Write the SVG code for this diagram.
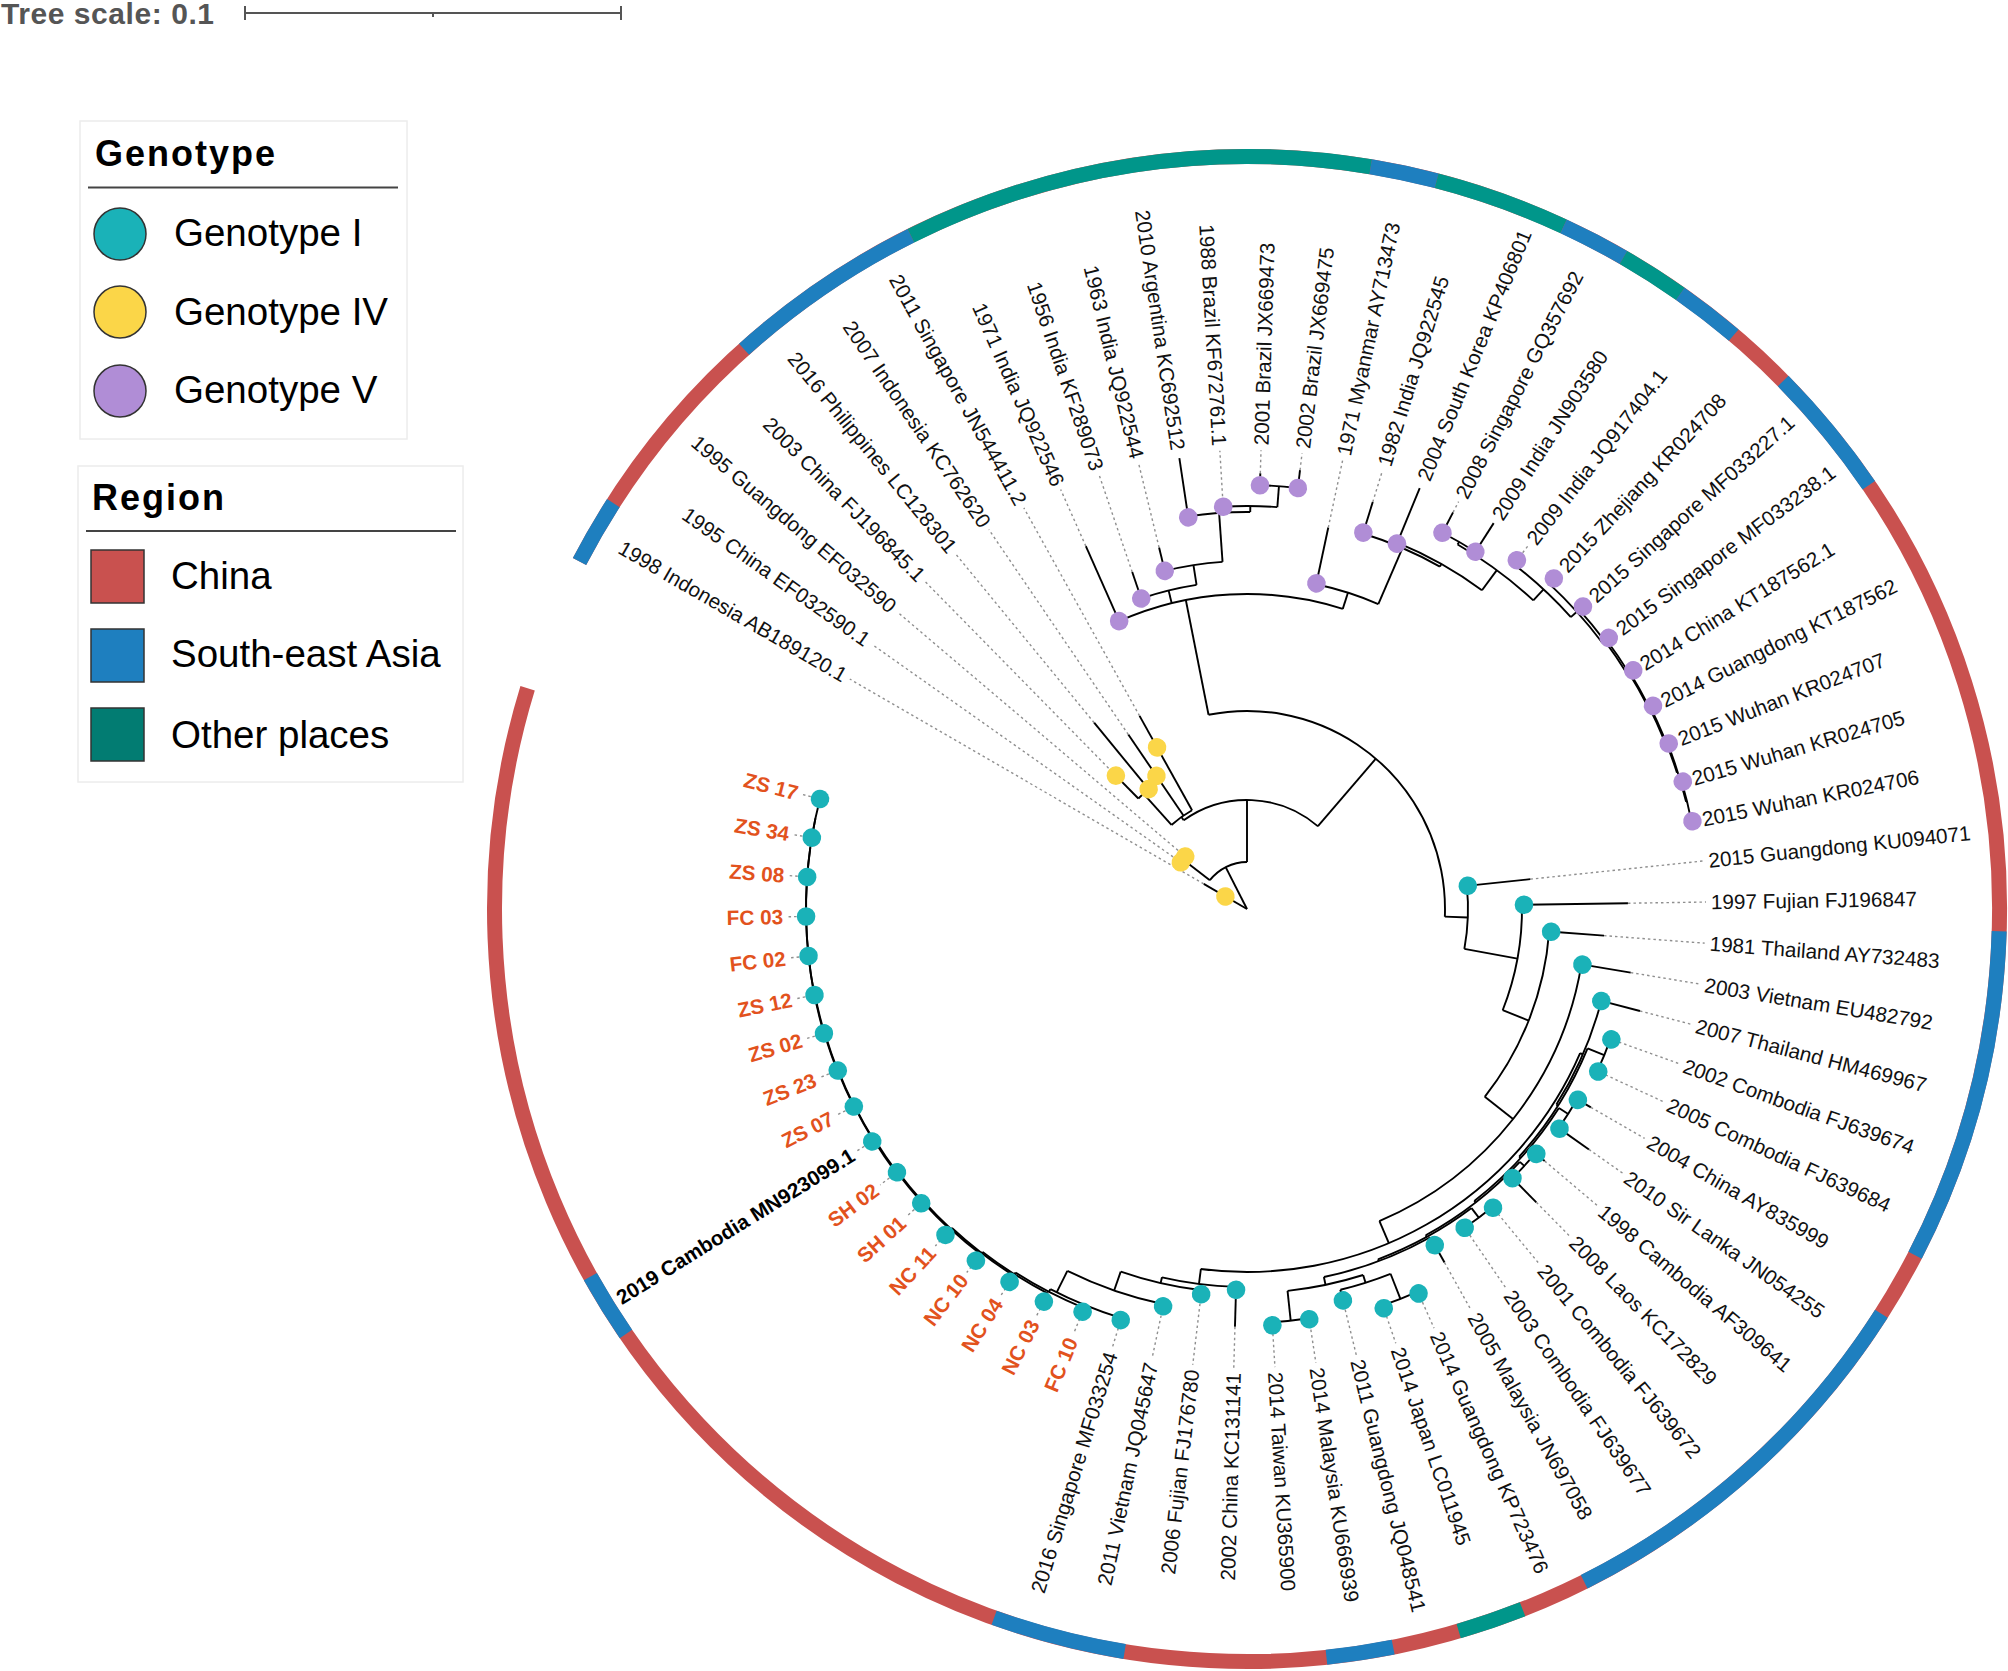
<svg xmlns="http://www.w3.org/2000/svg" width="2008" height="1671" viewBox="0 0 2008 1671">
<style>
text{font-family:"Liberation Sans",Arial,sans-serif}
.a{fill:none;stroke:#000;stroke-width:1.9}
.br line{stroke:#000;stroke-width:1.9}
.br line.d{stroke:#8f8f8f;stroke-width:1.4;stroke-dasharray:2.5 3}
.rg{fill:none;stroke-width:15}
.rr{stroke:#c9514f}.rb{stroke:#1e7fbf}.rt{stroke:#00968a}
.lb{font-size:20.7px;fill:#111}
.L{text-anchor:end}
.o{font-weight:bold;fill:#e2521d}
.k{font-weight:bold;fill:#000}
#leaves circle{r:9.3px}
.g1{fill:#1ab2b8}.g4{fill:#fbd648}.g5{fill:#b08dd6}
.lg{font-size:38.5px;fill:#000}
.lt{font-size:36px;font-weight:bold;fill:#000}
.box{fill:#fff;stroke:#ececec;stroke-width:1.5}
.sw{stroke:#333;stroke-width:1.5}
</style>
<rect width="2008" height="1671" fill="#fff"/>
<g id="scale">
<text x="1" y="24" font-size="30" font-weight="bold" fill="#555" textLength="213">Tree scale: 0.1</text>
<path d="M245 6V20M245 13H621M621 6V20M433 13V17" stroke="#555" stroke-width="2" fill="none"/>
</g>
<g id="legend-genotype">
<rect class="box" x="80" y="121" width="327" height="318"/>
<text class="lt" x="95" y="166" textLength="180">Genotype</text>
<line x1="88" y1="187.5" x2="398" y2="187.5" stroke="#444" stroke-width="2"/>
<circle class="g1 sw" cx="120" cy="234" r="26"/>
<text class="lg" x="174" y="246">Genotype I</text>
<circle class="g4 sw" cx="120" cy="312" r="26"/>
<text class="lg" x="174" y="325">Genotype IV</text>
<circle class="g5 sw" cx="120" cy="391" r="26"/>
<text class="lg" x="174" y="403">Genotype V</text>
</g>
<g id="legend-region">
<rect class="box" x="78" y="466" width="385" height="316"/>
<text class="lt" x="92" y="510" textLength="132">Region</text>
<line x1="86" y1="531" x2="456" y2="531" stroke="#444" stroke-width="2"/>
<rect class="sw" x="91" y="550" width="53" height="53" fill="#c9514f"/>
<text class="lg" x="171" y="589">China</text>
<rect class="sw" x="91" y="629" width="53" height="53" fill="#1e7fbf"/>
<text class="lg" x="171" y="667">South-east Asia</text>
<rect class="sw" x="91" y="708" width="53" height="53" fill="#027c72"/>
<text class="lg" x="171" y="748">Other places</text>
</g>
<g id="tree" transform="translate(1247 909)">
<g id="ring">
<circle class="rg rr" r="752.5" stroke-dasharray="4590.5 5000" transform="rotate(207.5)"/>
<circle class="rg rb" r="752.5" stroke-dasharray="67.51 5000" transform="rotate(207.5)"/>
<circle class="rg rb" r="752.5" stroke-dasharray="202.52 5000" transform="rotate(228.06)"/>
<circle class="rg rt" r="752.5" stroke-dasharray="472.55 5000" transform="rotate(243.48)"/>
<circle class="rg rb" r="752.5" stroke-dasharray="67.51 5000" transform="rotate(279.46)"/>
<circle class="rg rt" r="752.5" stroke-dasharray="135.01 5000" transform="rotate(284.6)"/>
<circle class="rg rb" r="752.5" stroke-dasharray="67.51 5000" transform="rotate(294.88)"/>
<circle class="rg rt" r="752.5" stroke-dasharray="67.51 5000" transform="rotate(300.02)"/>
<circle class="rg rb" r="752.5" stroke-dasharray="67.51 5000" transform="rotate(305.16)"/>
<circle class="rg rb" r="752.5" stroke-dasharray="135.01 5000" transform="rotate(315.44)"/>
<circle class="rg rb" r="752.5" stroke-dasharray="337.54 5000" transform="rotate(1.7)"/>
<circle class="rg rb" r="752.5" stroke-dasharray="405.04 5000" transform="rotate(32.54)"/>
<circle class="rg rt" r="752.5" stroke-dasharray="67.51 5000" transform="rotate(68.52)"/>
<circle class="rg rb" r="752.5" stroke-dasharray="67.51 5000" transform="rotate(78.8)"/>
<circle class="rg rb" r="752.5" stroke-dasharray="135.01 5000" transform="rotate(99.36)"/>
<circle class="rg rb" r="752.5" stroke-dasharray="67.51 5000" transform="rotate(145.62)"/>
</g>
<g id="connectors" class="br">
<circle class="a" r="47" stroke-dasharray="42.84 5000" transform="rotate(217.78)"/>
<circle class="a" r="81" stroke-dasharray="7.27 5000" transform="rotate(215.21)"/>
<circle class="a" r="109" stroke-dasharray="144.77 5000" transform="rotate(234.5)"/>
<circle class="a" r="113" stroke-dasharray="25.34 5000" transform="rotate(228.06)"/>
<circle class="a" r="155" stroke-dasharray="13.91 5000" transform="rotate(225.49)"/>
<circle class="a" r="198" stroke-dasharray="357.32 5000" transform="rotate(258.8)"/>
<circle class="a" r="315" stroke-dasharray="228.98 5000" transform="rotate(246.05)"/>
<circle class="a" r="328" stroke-dasharray="57.02 5000" transform="rotate(251.19)"/>
<circle class="a" r="348" stroke-dasharray="58.55 5000" transform="rotate(256.33)"/>
<circle class="a" r="397" stroke-dasharray="62.36 5000" transform="rotate(261.47)"/>
<circle class="a" r="403" stroke-dasharray="54.23 5000" transform="rotate(266.61)"/>
<circle class="a" r="424" stroke-dasharray="38.04 5000" transform="rotate(271.75)"/>
<circle class="a" r="332" stroke-dasharray="65.30 5000" transform="rotate(282.03)"/>
<circle class="a" r="393" stroke-dasharray="83.89 5000" transform="rotate(287.17)"/>
<circle class="a" r="396" stroke-dasharray="97.38 5000" transform="rotate(292.31)"/>
<circle class="a" r="421" stroke-dasharray="94.27 5000" transform="rotate(300.02)"/>
<circle class="a" r="424" stroke-dasharray="38.04 5000" transform="rotate(297.45)"/>
<circle class="a" r="436" stroke-dasharray="77.92 5000" transform="rotate(307.73)"/>
<circle class="a" r="444" stroke-dasharray="79.04 5000" transform="rotate(312.87)"/>
<circle class="a" r="447" stroke-dasharray="78.95 5000" transform="rotate(318.01)"/>
<circle class="a" r="449" stroke-dasharray="78.05 5000" transform="rotate(323.15)"/>
<circle class="a" r="450" stroke-dasharray="75.71 5000" transform="rotate(328.29)"/>
<circle class="a" r="451" stroke-dasharray="70.84 5000" transform="rotate(333.43)"/>
<circle class="a" r="452" stroke-dasharray="60.82 5000" transform="rotate(338.57)"/>
<circle class="a" r="453" stroke-dasharray="40.64 5000" transform="rotate(343.71)"/>
<circle class="a" r="221" stroke-dasharray="63.30 5000" transform="rotate(353.99)"/>
<circle class="a" r="275" stroke-dasharray="107.85 5000" transform="rotate(359.13)"/>
<circle class="a" r="303" stroke-dasharray="179.96 5000" transform="rotate(4.27)"/>
<circle class="a" r="339" stroke-dasharray="340.74 5000" transform="rotate(9.41)"/>
<circle class="a" r="363" stroke-dasharray="468.20 5000" transform="rotate(23.4)"/>
<circle class="a" r="366" stroke-dasharray="113.39 5000" transform="rotate(14.55)"/>
<circle class="a" r="368" stroke-dasharray="128.71 5000" transform="rotate(22.26)"/>
<circle class="a" r="370" stroke-dasharray="126.31 5000" transform="rotate(32.54)"/>
<circle class="a" r="372" stroke-dasharray="119.98 5000" transform="rotate(42.82)"/>
<circle class="a" r="374" stroke-dasharray="107.05 5000" transform="rotate(53.1)"/>
<circle class="a" r="376" stroke-dasharray="114.12 5000" transform="rotate(60.81)"/>
<circle class="a" r="384" stroke-dasharray="77.34 5000" transform="rotate(72.4)"/>
<circle class="a" r="386" stroke-dasharray="34.63 5000" transform="rotate(19.69)"/>
<circle class="a" r="381" stroke-dasharray="34.18 5000" transform="rotate(29.97)"/>
<circle class="a" r="378" stroke-dasharray="33.91 5000" transform="rotate(40.25)"/>
<circle class="a" r="386" stroke-dasharray="34.63 5000" transform="rotate(50.53)"/>
<circle class="a" r="392" stroke-dasharray="52.75 5000" transform="rotate(68.52)"/>
<circle class="a" r="419" stroke-dasharray="37.59 5000" transform="rotate(65.95)"/>
<circle class="a" r="414" stroke-dasharray="37.14 5000" transform="rotate(81.37)"/>
<circle class="a" r="378" stroke-dasharray="74.88 5000" transform="rotate(91.65)"/>
<circle class="a" r="384" stroke-dasharray="83.17 5000" transform="rotate(96.79)"/>
<circle class="a" r="404" stroke-dasharray="102.03 5000" transform="rotate(101.93)"/>
<circle class="a" r="428" stroke-dasharray="76.79 5000" transform="rotate(107.07)"/>
<circle class="a" r="431" stroke-dasharray="77.33 5000" transform="rotate(112.21)"/>
<circle class="a" r="433" stroke-dasharray="77.69 5000" transform="rotate(117.35)"/>
<circle class="a" r="434.5" stroke-dasharray="77.96 5000" transform="rotate(122.49)"/>
<circle class="a" r="436" stroke-dasharray="78.23 5000" transform="rotate(127.63)"/>
<circle class="a" r="437" stroke-dasharray="78.41 5000" transform="rotate(132.77)"/>
<circle class="a" r="438" stroke-dasharray="78.59 5000" transform="rotate(137.91)"/>
<circle class="a" r="439" stroke-dasharray="78.69 5000" transform="rotate(143.05)"/>
<circle class="a" r="439.5" stroke-dasharray="78.70 5000" transform="rotate(148.19)"/>
<circle class="a" r="440" stroke-dasharray="78.64 5000" transform="rotate(153.33)"/>
<circle class="a" r="440.5" stroke-dasharray="78.42 5000" transform="rotate(158.47)"/>
<circle class="a" r="441" stroke-dasharray="77.89 5000" transform="rotate(163.61)"/>
<circle class="a" r="441" stroke-dasharray="76.66 5000" transform="rotate(168.75)"/>
<circle class="a" r="441" stroke-dasharray="74.20 5000" transform="rotate(173.89)"/>
<circle class="a" r="441" stroke-dasharray="69.27 5000" transform="rotate(179.03)"/>
<circle class="a" r="441" stroke-dasharray="59.34 5000" transform="rotate(184.17)"/>
<circle class="a" r="441" stroke-dasharray="39.56 5000" transform="rotate(189.31)"/>
<line x1="0" x2="47" transform="rotate(243)"/>
<line x1="47" x2="81" transform="rotate(217.78)"/>
<line x1="47" x2="109" transform="rotate(270)"/>
<line x1="109" x2="113" transform="rotate(234.5)"/>
<line x1="113" x2="155" transform="rotate(228.06)"/>
<line x1="109" x2="198" transform="rotate(310.6)"/>
<line x1="198" x2="315" transform="rotate(258.8)"/>
<line x1="198" x2="221" transform="rotate(2.2)"/>
<line x1="315" x2="328" transform="rotate(256.17)"/>
<line x1="328" x2="348" transform="rotate(261.15)"/>
<line x1="348" x2="397" transform="rotate(265.97)"/>
<line x1="397" x2="403" transform="rotate(270.47)"/>
<line x1="403" x2="424" transform="rotate(274.32)"/>
<line x1="315" x2="332" transform="rotate(287.7)"/>
<line x1="332" x2="393" transform="rotate(293.3)"/>
<line x1="393" x2="396" transform="rotate(299.4)"/>
<line x1="396" x2="421" transform="rotate(306.4)"/>
<line x1="421" x2="424" transform="rotate(300.02)"/>
<line x1="421" x2="436" transform="rotate(312.85)"/>
<line x1="436" x2="444" transform="rotate(317.97)"/>
<line x1="444" x2="447" transform="rotate(323.07)"/>
<line x1="447" x2="449" transform="rotate(328.13)"/>
<line x1="449" x2="450" transform="rotate(333.11)"/>
<line x1="450" x2="451" transform="rotate(337.93)"/>
<line x1="451" x2="452" transform="rotate(342.43)"/>
<line x1="452" x2="453" transform="rotate(346.28)"/>
<line x1="221" x2="275" transform="rotate(10.4)"/>
<line x1="275" x2="303" transform="rotate(21.6)"/>
<line x1="303" x2="339" transform="rotate(38.3)"/>
<line x1="339" x2="363" transform="rotate(67)"/>
<line x1="363" x2="366" transform="rotate(23.4)"/>
<line x1="366" x2="368" transform="rotate(32.3)"/>
<line x1="368" x2="386" transform="rotate(22.26)"/>
<line x1="368" x2="370" transform="rotate(42.3)"/>
<line x1="370" x2="381" transform="rotate(32.54)"/>
<line x1="370" x2="372" transform="rotate(52.1)"/>
<line x1="372" x2="378" transform="rotate(42.82)"/>
<line x1="372" x2="374" transform="rotate(61.3)"/>
<line x1="374" x2="386" transform="rotate(53.1)"/>
<line x1="374" x2="376" transform="rotate(69.5)"/>
<line x1="376" x2="384" transform="rotate(78.2)"/>
<line x1="384" x2="392" transform="rotate(72.4)"/>
<line x1="392" x2="419" transform="rotate(68.52)"/>
<line x1="384" x2="414" transform="rotate(83.94)"/>
<line x1="363" x2="378" transform="rotate(97.3)"/>
<line x1="378" x2="384" transform="rotate(103)"/>
<line x1="384" x2="404" transform="rotate(109.2)"/>
<line x1="404" x2="428" transform="rotate(116.4)"/>
<line x1="428" x2="431" transform="rotate(117.35)"/>
<line x1="431" x2="433" transform="rotate(122.49)"/>
<line x1="433" x2="434.5" transform="rotate(127.63)"/>
<line x1="434.5" x2="436" transform="rotate(132.77)"/>
<line x1="436" x2="437" transform="rotate(137.91)"/>
<line x1="437" x2="438" transform="rotate(143.05)"/>
<line x1="438" x2="439" transform="rotate(148.19)"/>
<line x1="439" x2="439.5" transform="rotate(153.32)"/>
<line x1="439.5" x2="440" transform="rotate(158.45)"/>
<line x1="440" x2="440.5" transform="rotate(163.57)"/>
<line x1="440.5" x2="441" transform="rotate(168.67)"/>
<g transform="rotate(210.07)"><line x1="0" x2="50"/><line class="d" x1="50" x2="459"/></g>
<g transform="rotate(215.21)"><line x1="81" x2="85"/><line class="d" x1="85" x2="459"/></g>
<g transform="rotate(220.35)"><line x1="81" x2="85"/><line class="d" x1="85" x2="459"/></g>
<g transform="rotate(225.49)"><line x1="155" x2="192"/><line class="d" x1="192" x2="459"/></g>
<g transform="rotate(230.63)"><line x1="155" x2="241"/><line class="d" x1="241" x2="459"/></g>
<g transform="rotate(235.77)"><line x1="113" x2="211"/><line class="d" x1="211" x2="459"/></g>
<g transform="rotate(240.91)"><line x1="113" x2="221"/><line class="d" x1="221" x2="459"/></g>
<g transform="rotate(246.05)"><line x1="315" x2="397"/><line class="d" x1="397" x2="459"/></g>
<g transform="rotate(251.19)"><line x1="328" x2="356"/><line class="d" x1="356" x2="459"/></g>
<g transform="rotate(256.33)"><line x1="348" x2="372"/><line class="d" x1="372" x2="459"/></g>
<g transform="rotate(261.47)"><line x1="397" x2="456"/></g>
<g transform="rotate(266.61)"><line x1="403" x2="408"/><line class="d" x1="408" x2="459"/></g>
<g transform="rotate(271.75)"><line x1="424" x2="436"/><line class="d" x1="436" x2="459"/></g>
<g transform="rotate(276.89)"><line x1="424" x2="442"/><line class="d" x1="442" x2="459"/></g>
<g transform="rotate(282.03)"><line x1="332" x2="390"/><line class="d" x1="390" x2="459"/></g>
<g transform="rotate(287.17)"><line x1="393" x2="426"/><line class="d" x1="426" x2="459"/></g>
<g transform="rotate(292.31)"><line x1="396" x2="455"/></g>
<g transform="rotate(297.45)"><line x1="424" x2="447"/><line class="d" x1="447" x2="459"/></g>
<g transform="rotate(302.59)"><line x1="424" x2="458"/></g>
<g transform="rotate(307.73)"><line x1="436" x2="445"/><line class="d" x1="445" x2="459"/></g>
<g transform="rotate(312.87)"><line x1="444" x2="454"/></g>
<g transform="rotate(318.01)"><line x1="447" x2="457"/></g>
<g transform="rotate(323.15)"><line x1="449" x2="457"/></g>
<g transform="rotate(328.29)"><line x1="450" x2="457"/></g>
<g transform="rotate(333.43)"><line x1="451" x2="457"/></g>
<g transform="rotate(338.57)"><line x1="452" x2="457"/></g>
<g transform="rotate(343.71)"><line x1="453" x2="457"/></g>
<g transform="rotate(348.85)"><line x1="453" x2="457"/></g>
<g transform="rotate(353.99)"><line x1="221" x2="285"/><line class="d" x1="285" x2="459"/></g>
<g transform="rotate(359.13)"><line x1="275" x2="381"/><line class="d" x1="381" x2="459"/></g>
<g transform="rotate(4.27)"><line x1="303" x2="358"/><line class="d" x1="358" x2="459"/></g>
<g transform="rotate(9.41)"><line x1="339" x2="389"/><line class="d" x1="389" x2="459"/></g>
<g transform="rotate(14.55)"><line x1="366" x2="406"/><line class="d" x1="406" x2="459"/></g>
<g transform="rotate(19.69)"><line x1="386" x2="395"/><line class="d" x1="395" x2="459"/></g>
<g transform="rotate(24.83)"><line x1="386" x2="395"/><line class="d" x1="395" x2="459"/></g>
<g transform="rotate(29.97)"><line x1="381" x2="397"/><line class="d" x1="397" x2="459"/></g>
<g transform="rotate(35.11)"><line x1="381" x2="418"/><line class="d" x1="418" x2="459"/></g>
<g transform="rotate(40.25)"><line x1="378" x2="390"/><line class="d" x1="390" x2="459"/></g>
<g transform="rotate(45.39)"><line x1="378" x2="412"/><line class="d" x1="412" x2="459"/></g>
<g transform="rotate(50.53)"><line x1="386" x2="395"/><line class="d" x1="395" x2="459"/></g>
<g transform="rotate(55.67)"><line x1="386" x2="395"/><line class="d" x1="395" x2="459"/></g>
<g transform="rotate(60.81)"><line x1="376" x2="405"/><line class="d" x1="405" x2="459"/></g>
<g transform="rotate(65.95)"><line x1="419" x2="425"/><line class="d" x1="425" x2="459"/></g>
<g transform="rotate(71.09)"><line x1="419" x2="425"/><line class="d" x1="425" x2="459"/></g>
<g transform="rotate(76.23)"><line x1="392" x2="407"/><line class="d" x1="407" x2="459"/></g>
<g transform="rotate(81.37)"><line x1="414" x2="420"/><line class="d" x1="420" x2="459"/></g>
<g transform="rotate(86.51)"><line x1="414" x2="420"/><line class="d" x1="420" x2="459"/></g>
<g transform="rotate(91.65)"><line x1="378" x2="418"/><line class="d" x1="418" x2="459"/></g>
<g transform="rotate(96.79)"><line x1="384" x2="392"/><line class="d" x1="392" x2="459"/></g>
<g transform="rotate(101.93)"><line x1="404" x2="410"/><line class="d" x1="410" x2="459"/></g>
<g transform="rotate(107.07)"><line x1="428" x2="433"/><line class="d" x1="433" x2="459"/></g>
<g transform="rotate(112.21)"><line x1="431" x2="437"/><line class="d" x1="437" x2="459"/></g>
<g transform="rotate(117.35)"><line x1="433" x2="444"/><line class="d" x1="444" x2="459"/></g>
<g transform="rotate(122.49)"><line x1="434.5" x2="444"/><line class="d" x1="444" x2="459"/></g>
<g transform="rotate(127.63)"><line x1="436" x2="446"/><line class="d" x1="446" x2="459"/></g>
<g transform="rotate(132.77)"><line x1="437" x2="446"/><line class="d" x1="446" x2="459"/></g>
<g transform="rotate(137.91)"><line x1="438" x2="443"/><line class="d" x1="443" x2="459"/></g>
<g transform="rotate(143.05)"><line x1="439" x2="442"/><line class="d" x1="442" x2="459"/></g>
<g transform="rotate(148.19)"><line x1="439.5" x2="445"/><line class="d" x1="445" x2="459"/></g>
<g transform="rotate(153.33)"><line x1="440" x2="444"/><line class="d" x1="444" x2="459"/></g>
<g transform="rotate(158.47)"><line x1="440.5" x2="444"/><line class="d" x1="444" x2="459"/></g>
<g transform="rotate(163.61)"><line x1="441" x2="445"/><line class="d" x1="445" x2="459"/></g>
<g transform="rotate(168.75)"><line x1="441" x2="445"/><line class="d" x1="445" x2="459"/></g>
<g transform="rotate(173.89)"><line x1="441" x2="445"/><line class="d" x1="445" x2="459"/></g>
<g transform="rotate(179.03)"><line x1="441" x2="445"/><line class="d" x1="445" x2="459"/></g>
<g transform="rotate(184.17)"><line x1="441" x2="445"/><line class="d" x1="445" x2="459"/></g>
<g transform="rotate(189.31)"><line x1="441" x2="445"/><line class="d" x1="445" x2="459"/></g>
<g transform="rotate(194.45)"><line x1="441" x2="445"/><line class="d" x1="445" x2="459"/></g>
</g>
<g id="leaves">
<g id="leaf1" transform="rotate(210.07)"><circle class="g4" cx="25" r="9.3"/><text class="lb L" transform="rotate(180)" x="-464" y="7.3">1998 Indonesia AB189120.1</text></g>
<g id="leaf2" transform="rotate(215.21)"><circle class="g4" cx="81" r="9.3"/><text class="lb L" transform="rotate(180)" x="-464" y="7.3">1995 China EF032590.1</text></g>
<g id="leaf3" transform="rotate(220.35)"><circle class="g4" cx="81" r="9.3"/><text class="lb L" transform="rotate(180)" x="-464" y="7.3">1995 Guangdong EF032590</text></g>
<g id="leaf4" transform="rotate(225.49)"><circle class="g4" cx="187" r="9.3"/><text class="lb L" transform="rotate(180)" x="-464" y="7.3">2003 China FJ196845.1</text></g>
<g id="leaf5" transform="rotate(230.63)"><circle class="g4" cx="155" r="9.3"/><text class="lb L" transform="rotate(180)" x="-464" y="7.3">2016 Philippines LC128301</text></g>
<g id="leaf6" transform="rotate(235.77)"><circle class="g4" cx="161" r="9.3"/><text class="lb L" transform="rotate(180)" x="-464" y="7.3">2007 Indonesia KC762620</text></g>
<g id="leaf7" transform="rotate(240.91)"><circle class="g4" cx="185" r="9.3"/><text class="lb L" transform="rotate(180)" x="-464" y="7.3">2011 Singapore JN544411.2</text></g>
<g id="leaf8" transform="rotate(246.05)"><circle class="g5" cx="315" r="9.3"/><text class="lb L" transform="rotate(180)" x="-464" y="7.3">1971 India JQ922546</text></g>
<g id="leaf9" transform="rotate(251.19)"><circle class="g5" cx="328" r="9.3"/><text class="lb L" transform="rotate(180)" x="-464" y="7.3">1956 India KF289073</text></g>
<g id="leaf10" transform="rotate(256.33)"><circle class="g5" cx="348" r="9.3"/><text class="lb L" transform="rotate(180)" x="-464" y="7.3">1963 India JQ922544</text></g>
<g id="leaf11" transform="rotate(261.47)"><circle class="g5" cx="396" r="9.3"/><text class="lb L" transform="rotate(180)" x="-464" y="7.3">2010 Argentina KC692512</text></g>
<g id="leaf12" transform="rotate(266.61)"><circle class="g5" cx="403" r="9.3"/><text class="lb L" transform="rotate(180)" x="-464" y="7.3">1988 Brazil KF672761.1</text></g>
<g id="leaf13" transform="rotate(271.75)"><circle class="g5" cx="424" r="9.3"/><text class="lb" x="464" y="7.3">2001 Brazil JX669473</text></g>
<g id="leaf14" transform="rotate(276.89)"><circle class="g5" cx="424" r="9.3"/><text class="lb" x="464" y="7.3">2002 Brazil JX669475</text></g>
<g id="leaf15" transform="rotate(282.03)"><circle class="g5" cx="333" r="9.3"/><text class="lb" x="464" y="7.3">1971 Myanmar AY713473</text></g>
<g id="leaf16" transform="rotate(287.17)"><circle class="g5" cx="394" r="9.3"/><text class="lb" x="464" y="7.3">1982 India JQ922545</text></g>
<g id="leaf17" transform="rotate(292.31)"><circle class="g5" cx="395" r="9.3"/><text class="lb" x="464" y="7.3">2004 South Korea KP406801</text></g>
<g id="leaf18" transform="rotate(297.45)"><circle class="g5" cx="424" r="9.3"/><text class="lb" x="464" y="7.3">2008 Singapore GQ357692</text></g>
<g id="leaf19" transform="rotate(302.59)"><circle class="g5" cx="424" r="9.3"/><text class="lb" x="464" y="7.3">2009 India JN903580</text></g>
<g id="leaf20" transform="rotate(307.73)"><circle class="g5" cx="441" r="9.3"/><text class="lb" x="464" y="7.3">2009 India JQ917404.1</text></g>
<g id="leaf21" transform="rotate(312.87)"><circle class="g5" cx="451" r="9.3"/><text class="lb" x="464" y="7.3">2015 Zhejiang KR024708</text></g>
<g id="leaf22" transform="rotate(318.01)"><circle class="g5" cx="452" r="9.3"/><text class="lb" x="464" y="7.3">2015 Singapore MF033227.1</text></g>
<g id="leaf23" transform="rotate(323.15)"><circle class="g5" cx="452" r="9.3"/><text class="lb" x="464" y="7.3">2015 Singapore MF033238.1</text></g>
<g id="leaf24" transform="rotate(328.29)"><circle class="g5" cx="454" r="9.3"/><text class="lb" x="464" y="7.3">2014 China KT187562.1</text></g>
<g id="leaf25" transform="rotate(333.43)"><circle class="g5" cx="454" r="9.3"/><text class="lb" x="464" y="7.3">2014 Guangdong KT187562</text></g>
<g id="leaf26" transform="rotate(338.57)"><circle class="g5" cx="453" r="9.3"/><text class="lb" x="464" y="7.3">2015 Wuhan KR024707</text></g>
<g id="leaf27" transform="rotate(343.71)"><circle class="g5" cx="454" r="9.3"/><text class="lb" x="464" y="7.3">2015 Wuhan KR024705</text></g>
<g id="leaf28" transform="rotate(348.85)"><circle class="g5" cx="454" r="9.3"/><text class="lb" x="464" y="7.3">2015 Wuhan KR024706</text></g>
<g id="leaf29" transform="rotate(353.99)"><circle class="g1" cx="222" r="9.3"/><text class="lb" x="464" y="7.3">2015 Guangdong KU094071</text></g>
<g id="leaf30" transform="rotate(359.13)"><circle class="g1" cx="277" r="9.3"/><text class="lb" x="464" y="7.3">1997 Fujian FJ196847</text></g>
<g id="leaf31" transform="rotate(4.27)"><circle class="g1" cx="305" r="9.3"/><text class="lb" x="464" y="7.3">1981 Thailand AY732483</text></g>
<g id="leaf32" transform="rotate(9.41)"><circle class="g1" cx="340" r="9.3"/><text class="lb" x="464" y="7.3">2003 Vietnam EU482792</text></g>
<g id="leaf33" transform="rotate(14.55)"><circle class="g1" cx="366" r="9.3"/><text class="lb" x="464" y="7.3">2007 Thailand HM469967</text></g>
<g id="leaf34" transform="rotate(19.69)"><circle class="g1" cx="387" r="9.3"/><text class="lb" x="464" y="7.3">2002 Combodia FJ639674</text></g>
<g id="leaf35" transform="rotate(24.83)"><circle class="g1" cx="387" r="9.3"/><text class="lb" x="464" y="7.3">2005 Combodia FJ639684</text></g>
<g id="leaf36" transform="rotate(29.97)"><circle class="g1" cx="382" r="9.3"/><text class="lb" x="464" y="7.3">2004 China AY835999</text></g>
<g id="leaf37" transform="rotate(35.11)"><circle class="g1" cx="382" r="9.3"/><text class="lb" x="464" y="7.3">2010 Sir Lanka JN054255</text></g>
<g id="leaf38" transform="rotate(40.25)"><circle class="g1" cx="379" r="9.3"/><text class="lb" x="464" y="7.3">1998 Cambodia AF309641</text></g>
<g id="leaf39" transform="rotate(45.39)"><circle class="g1" cx="378" r="9.3"/><text class="lb" x="464" y="7.3">2008 Laos KC172829</text></g>
<g id="leaf40" transform="rotate(50.53)"><circle class="g1" cx="387" r="9.3"/><text class="lb" x="464" y="7.3">2001 Combodia FJ639672</text></g>
<g id="leaf41" transform="rotate(55.67)"><circle class="g1" cx="386" r="9.3"/><text class="lb" x="464" y="7.3">2003 Combodia FJ639677</text></g>
<g id="leaf42" transform="rotate(60.81)"><circle class="g1" cx="385" r="9.3"/><text class="lb" x="464" y="7.3">2005 Malaysia JN697058</text></g>
<g id="leaf43" transform="rotate(65.95)"><circle class="g1" cx="421" r="9.3"/><text class="lb" x="464" y="7.3">2014 Guangdong KP723476</text></g>
<g id="leaf44" transform="rotate(71.09)"><circle class="g1" cx="422" r="9.3"/><text class="lb" x="464" y="7.3">2014 Japan LC011945</text></g>
<g id="leaf45" transform="rotate(76.23)"><circle class="g1" cx="403" r="9.3"/><text class="lb" x="464" y="7.3">2011 Guangdong JQ048541</text></g>
<g id="leaf46" transform="rotate(81.37)"><circle class="g1" cx="415" r="9.3"/><text class="lb" x="464" y="7.3">2014 Malaysia KU666939</text></g>
<g id="leaf47" transform="rotate(86.51)"><circle class="g1" cx="417" r="9.3"/><text class="lb" x="464" y="7.3">2014 Taiwan KU365900</text></g>
<g id="leaf48" transform="rotate(91.65)"><circle class="g1" cx="381" r="9.3"/><text class="lb L" transform="rotate(180)" x="-464" y="7.3">2002 China KC131141</text></g>
<g id="leaf49" transform="rotate(96.79)"><circle class="g1" cx="388" r="9.3"/><text class="lb L" transform="rotate(180)" x="-464" y="7.3">2006 Fujian FJ176780</text></g>
<g id="leaf50" transform="rotate(101.93)"><circle class="g1" cx="406" r="9.3"/><text class="lb L" transform="rotate(180)" x="-464" y="7.3">2011 Vietnam JQ045647</text></g>
<g id="leaf51" transform="rotate(107.07)"><circle class="g1" cx="430" r="9.3"/><text class="lb L" transform="rotate(180)" x="-464" y="7.3">2016 Singapore MF033254</text></g>
<g id="leaf52" transform="rotate(112.21)"><circle class="g1" cx="435" r="9.3"/><text class="lb L o" transform="rotate(180)" x="-464" y="7.3">FC 10</text></g>
<g id="leaf53" transform="rotate(117.35)"><circle class="g1" cx="442" r="9.3"/><text class="lb L o" transform="rotate(180)" x="-464" y="7.3">NC 03</text></g>
<g id="leaf54" transform="rotate(122.49)"><circle class="g1" cx="442" r="9.3"/><text class="lb L o" transform="rotate(180)" x="-464" y="7.3">NC 04</text></g>
<g id="leaf55" transform="rotate(127.63)"><circle class="g1" cx="444" r="9.3"/><text class="lb L o" transform="rotate(180)" x="-464" y="7.3">NC 10</text></g>
<g id="leaf56" transform="rotate(132.77)"><circle class="g1" cx="444" r="9.3"/><text class="lb L o" transform="rotate(180)" x="-464" y="7.3">NC 11</text></g>
<g id="leaf57" transform="rotate(137.91)"><circle class="g1" cx="439" r="9.3"/><text class="lb L o" transform="rotate(180)" x="-464" y="7.3">SH 01</text></g>
<g id="leaf58" transform="rotate(143.05)"><circle class="g1" cx="438" r="9.3"/><text class="lb L o" transform="rotate(180)" x="-464" y="7.3">SH 02</text></g>
<g id="leaf59" transform="rotate(148.19)"><circle class="g1" cx="441" r="9.3"/><text class="lb L k" transform="rotate(180)" x="-464" y="7.3">2019 Cambodia MN923099.1</text></g>
<g id="leaf60" transform="rotate(153.33)"><circle class="g1" cx="440" r="9.3"/><text class="lb L o" transform="rotate(180)" x="-464" y="7.3">ZS 07</text></g>
<g id="leaf61" transform="rotate(158.47)"><circle class="g1" cx="440" r="9.3"/><text class="lb L o" transform="rotate(180)" x="-464" y="7.3">ZS 23</text></g>
<g id="leaf62" transform="rotate(163.61)"><circle class="g1" cx="441" r="9.3"/><text class="lb L o" transform="rotate(180)" x="-464" y="7.3">ZS 02</text></g>
<g id="leaf63" transform="rotate(168.75)"><circle class="g1" cx="441" r="9.3"/><text class="lb L o" transform="rotate(180)" x="-464" y="7.3">ZS 12</text></g>
<g id="leaf64" transform="rotate(173.89)"><circle class="g1" cx="441" r="9.3"/><text class="lb L o" transform="rotate(180)" x="-464" y="7.3">FC 02</text></g>
<g id="leaf65" transform="rotate(179.03)"><circle class="g1" cx="441" r="9.3"/><text class="lb L o" transform="rotate(180)" x="-464" y="7.3">FC 03</text></g>
<g id="leaf66" transform="rotate(184.17)"><circle class="g1" cx="441" r="9.3"/><text class="lb L o" transform="rotate(180)" x="-464" y="7.3">ZS 08</text></g>
<g id="leaf67" transform="rotate(189.31)"><circle class="g1" cx="441" r="9.3"/><text class="lb L o" transform="rotate(180)" x="-464" y="7.3">ZS 34</text></g>
<g id="leaf68" transform="rotate(194.45)"><circle class="g1" cx="441" r="9.3"/><text class="lb L o" transform="rotate(180)" x="-464" y="7.3">ZS 17</text></g>
</g>
</g>
</svg>
